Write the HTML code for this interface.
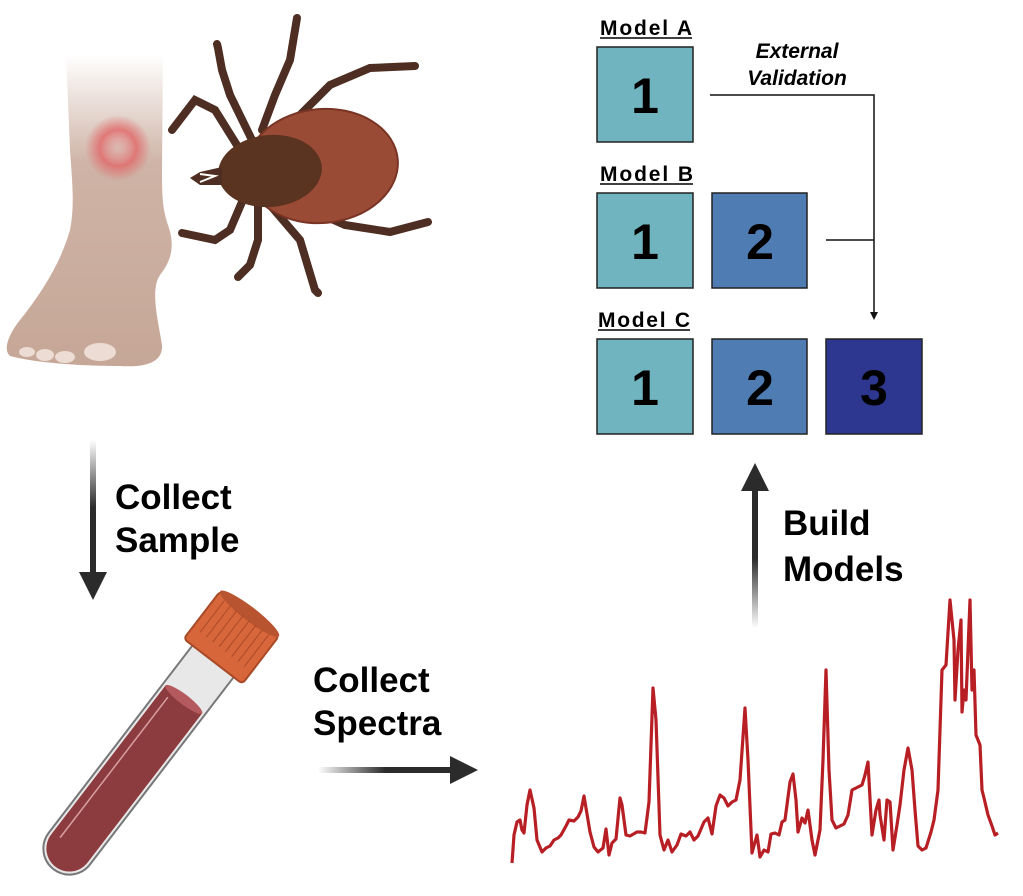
<!DOCTYPE html>
<html><head><meta charset="utf-8"><style>
html,body{margin:0;padding:0;background:#fff;}
svg{display:block;}
text{font-family:"Liberation Sans",Arial,sans-serif;}
</style></head><body>
<svg width="1023" height="896" viewBox="0 0 1023 896" xmlns="http://www.w3.org/2000/svg">
<defs>
<linearGradient id="legfade" x1="0" y1="0" x2="0" y2="1">
<stop offset="0" stop-color="#c9ab9c" stop-opacity="0"/>
<stop offset="0.35" stop-color="#c9ab9c" stop-opacity="0.9"/>
<stop offset="1" stop-color="#c6a797"/>
</linearGradient>
<radialGradient id="rash">
<stop offset="0" stop-color="#e8a0a0" stop-opacity="0.2"/>
<stop offset="0.55" stop-color="#e07070" stop-opacity="0.9"/>
<stop offset="1" stop-color="#e07070" stop-opacity="0"/>
</radialGradient>
<linearGradient id="vfade" x1="0" y1="0" x2="0" y2="1">
<stop offset="0" stop-color="#2b2b2b" stop-opacity="0"/>
<stop offset="0.5" stop-color="#2b2b2b"/>
<stop offset="1" stop-color="#2b2b2b"/>
</linearGradient>
<linearGradient id="ufade" x1="0" y1="1" x2="0" y2="0">
<stop offset="0" stop-color="#2b2b2b" stop-opacity="0"/>
<stop offset="0.5" stop-color="#2b2b2b"/>
<stop offset="1" stop-color="#2b2b2b"/>
</linearGradient>
<linearGradient id="hfade" x1="0" y1="0" x2="1" y2="0">
<stop offset="0" stop-color="#2b2b2b" stop-opacity="0"/>
<stop offset="0.5" stop-color="#2b2b2b"/>
<stop offset="1" stop-color="#2b2b2b"/>
</linearGradient>
</defs>

<!-- Foot -->
<path d="M66,55 L163,55 L162,170 C162,200 163,210 168,225 C175,245 172,260 160,275 C150,290 158,320 162,345 C163,360 150,368 120,366 C90,366 40,364 10,356 C3,350 8,335 20,320 C40,295 60,265 70,230 C75,205 72,180 70,150 Z" fill="url(#legfade)"/>
<ellipse cx="27" cy="352" rx="8" ry="5" fill="#ecdcd3"/>
<ellipse cx="45" cy="355" rx="9" ry="6" fill="#ecdcd3"/>
<ellipse cx="65" cy="357" rx="10" ry="6" fill="#ecdcd3"/>
<ellipse cx="100" cy="352" rx="16" ry="9" fill="#ecdcd3"/>
<circle cx="118" cy="148" r="33" fill="url(#rash)"/>

<!-- Tick legs -->
<g stroke="#4e2e22" stroke-width="8" stroke-linecap="round" fill="none">
<path d="M252,140 L230,95 L222,70 L218,48 L217,44"/>
<path d="M262,130 L275,95 L290,60 L297,18"/>
<path d="M290,125 L330,85 L370,68 L415,66"/>
<path d="M240,150 L215,110 L195,100 L172,130"/>
<path d="M245,195 L230,230 L215,240 L182,233"/>
<path d="M258,205 L258,240 L250,265 L238,277"/>
<path d="M270,205 L300,240 L315,290 L318,293"/>
<path d="M300,205 L345,225 L390,232 L428,222"/>
</g>
<!-- Tick body -->
<ellipse cx="322" cy="166" rx="76" ry="57" transform="rotate(-5 322 166)" fill="#9a4b36" stroke="#7a3424" stroke-width="2"/>
<ellipse cx="270" cy="171" rx="52" ry="36" transform="rotate(-5 270 171)" fill="#5a3321"/>
<path d="M222,167 L200,172 L190,178 L200,185 L222,185 Z" fill="#4e2e22"/>
<path d="M200,174 L215,176 L200,182" stroke="#fff" stroke-width="2" fill="none"/>

<!-- Collect Sample arrow -->
<rect x="90" y="440" width="6" height="135" fill="url(#vfade)"/>
<polygon points="79,572 107,572 93,600" fill="#2b2b2b"/>
<text x="115" y="509" font-size="35" font-weight="bold">Collect</text>
<text x="115" y="552" font-size="35" font-weight="bold">Sample</text>

<!-- Tube -->
<g transform="translate(56,866) rotate(37.5)">
<path d="M-26,-265 L-26,-22 A26,26 0 0 0 26,-22 L26,-265 Z" fill="#e8e8e8" stroke="#777" stroke-width="2"/>
<path d="M-23,-210 L-23,-22 A23,23 0 0 0 23,-22 L23,-210 Z" fill="#8c3b3f"/>
<ellipse cx="0" cy="-210" rx="23" ry="5" fill="#b45a5e"/>
<line x1="-14" y1="-202" x2="-14" y2="-25" stroke="#d8a0a0" stroke-width="1.5"/>
<rect x="-37" y="-318" width="74" height="60" rx="4" fill="#d8663b" stroke="#a84a28" stroke-width="2"/>
<ellipse cx="0" cy="-318" rx="37" ry="7" fill="#b85530"/>
<g stroke="#a84a28" stroke-width="1">
<line x1="-28" y1="-313" x2="-28" y2="-273"/><line x1="-20" y1="-313" x2="-20" y2="-273"/><line x1="-12" y1="-313" x2="-12" y2="-273"/><line x1="-4" y1="-313" x2="-4" y2="-273"/><line x1="4" y1="-313" x2="4" y2="-273"/><line x1="12" y1="-313" x2="12" y2="-273"/><line x1="20" y1="-313" x2="20" y2="-273"/><line x1="28" y1="-313" x2="28" y2="-273"/>
</g>
</g>

<!-- Collect Spectra arrow -->
<text x="313" y="692" font-size="35" font-weight="bold">Collect</text>
<text x="313" y="735" font-size="35" font-weight="bold">Spectra</text>
<rect x="318" y="767" width="135" height="6" fill="url(#hfade)"/>
<polygon points="450,756 450,784 478,770" fill="#2b2b2b"/>

<!-- Spectrum -->
<polyline fill="none" stroke="#b81f24" stroke-width="3.2" stroke-linejoin="round" points="512,863 514,835 517,822 520,820 522,830 524,833 527,805 530,790 534,808 537,840 542,852 546,848 550,846 554,840 558,838 561,835 566,826 569,820 574,821 578,817 581,811 584,796 586,808 590,832 594,847 598,852 603,848 606,829 609,855 612,843 616,839 620,798 622,805 626,835 630,836 637,832 641,832 645,833 649,802 653,688 656,720 660,835 664,850 668,840 672,852 677,845 681,834 686,836 690,832 694,840 698,836 704,822 708,818 712,834 716,806 720,795 724,798 728,806 732,802 736,800 740,780 745,708 748,760 752,853 755,842 757,835 760,857 764,850 768,852 771,834 775,833 779,835 782,822 785,820 790,782 793,774 796,800 798,832 802,818 805,823 808,810 812,840 815,855 820,830 823,760 826,670 829,770 832,820 836,828 840,826 844,824 848,815 852,790 856,788 862,785 865,775 868,762 872,835 876,810 879,800 880,815 884,840 887,800 890,802 893,850 897,825 900,805 904,770 908,748 912,770 915,810 918,846 922,850 926,848 931,832 934,820 938,790 942,670 946,665 950,600 954,640 955,700 958,650 961,620 962,712 964,690 966,700 970,600 972,690 974,670 976,735 980,745 982,790 984,798 988,815 992,826 995,835 998,833"/>

<!-- Build Models arrow -->
<rect x="752" y="488" width="6" height="140" fill="url(#ufade)"/>
<polygon points="741,491 769,491 755,463" fill="#2b2b2b"/>
<text x="783" y="535" font-size="35" font-weight="bold">Build</text>
<text x="783" y="581" font-size="35" font-weight="bold">Models</text>

<!-- Models -->
<g font-weight="bold" font-size="21">
<text x="600" y="35" textLength="92">Model A</text>
<line x1="600" y1="38" x2="692" y2="38" stroke="#000" stroke-width="1.5"/>
<text x="600" y="181" textLength="93">Model B</text>
<line x1="600" y1="184" x2="693" y2="184" stroke="#000" stroke-width="1.5"/>
<text x="598" y="327" textLength="92">Model C</text>
<line x1="598" y1="330" x2="690" y2="330" stroke="#000" stroke-width="1.5"/>
</g>
<text x="797" y="58" font-size="21" font-weight="bold" font-style="italic" text-anchor="middle">External</text>
<text x="797" y="85" font-size="21" font-weight="bold" font-style="italic" text-anchor="middle">Validation</text>

<g stroke="#222" stroke-width="1.5">
<rect x="597" y="47" width="96" height="95" fill="#6fb4bf"/>
<rect x="597" y="193" width="96" height="95" fill="#6fb4bf"/>
<rect x="712" y="193" width="95" height="95" fill="#4f7db3"/>
<rect x="597" y="339" width="96" height="95" fill="#6fb4bf"/>
<rect x="712" y="339" width="95" height="95" fill="#4f7db3"/>
<rect x="826" y="339" width="96" height="95" fill="#2e3790"/>
</g>
<g font-size="50" font-weight="bold" text-anchor="middle">
<text x="645" y="113">1</text>
<text x="645" y="259">1</text>
<text x="760" y="259">2</text>
<text x="645" y="405">1</text>
<text x="760" y="405">2</text>
<text x="874" y="405">3</text>
</g>
<polyline points="710,95 874,95 874,315" fill="none" stroke="#111" stroke-width="1.5"/>
<line x1="826" y1="240" x2="874" y2="240" stroke="#111" stroke-width="1.5"/>
<polygon points="870,312 878,312 874,320" fill="#111"/>
</svg>
</body></html>
